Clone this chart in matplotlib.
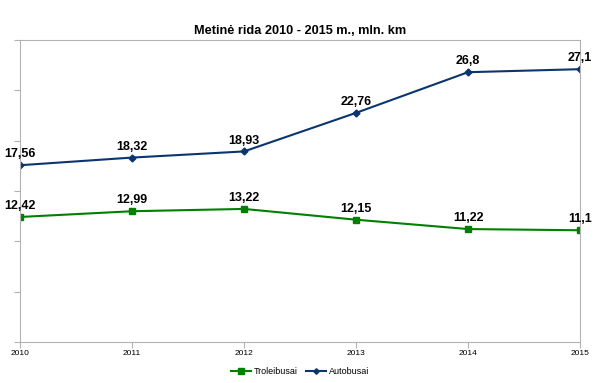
import matplotlib.pyplot as plt

# duomenys
years = [2010, 2011, 2012, 2013, 2014, 2015]
troleibusai = [12.42, 12.99, 13.22, 12.15, 11.22, 11.1]
autobusai = [17.56, 18.32, 18.93, 22.76, 26.8, 27.1]

plt.rcParams['font.family'] = ['Liberation Sans', 'DejaVu Sans']

fig = plt.figure(figsize=(6, 3.83), dpi=100)
ax = fig.add_axes([0.0333, 0.107, 0.9334, 0.7886])

green = '#008000'
navy = '#0a3570'

ax.plot(years, troleibusai, color=green, marker='s', markersize=5, linewidth=1.5,
        label='Troleibusai')
ax.plot(years, autobusai, color=navy, marker='D', markersize=3.5, linewidth=1.5,
        label='Autobusai')

for series in (troleibusai, autobusai):
    for x, y in zip(years, series):
        txt = ('%g' % y).replace('.', ',')
        ax.annotate(txt, (x, y), xytext=(0, 3.5), textcoords='offset points',
                    ha='center', va='bottom', fontsize=9, fontweight='bold',
                    annotation_clip=False)

ax.set_xlim(2010, 2015)
ax.set_ylim(0, 30)
ax.set_yticks(range(0, 31, 5))
ax.set_yticklabels([])
ax.set_xticks(years)
ax.set_xticklabels([str(y) for y in years], fontsize=6)
ax.tick_params(axis='both', color='#b3b3b3', length=4, width=0.8)
ax.tick_params(axis='x', pad=2)

for s in ax.spines.values():
    s.set_color('#b3b3b3')
    s.set_linewidth(0.8)

fig.text(0.5, 0.92, 'Metinė rida 2010 - 2015 m., mln. km', ha='center',
         va='center', fontsize=9.2, fontweight='bold')

fig.legend(loc='center', bbox_to_anchor=(0.5, 0.03), ncol=2, frameon=False,
           fontsize=6.5, handlelength=2.2, columnspacing=1.0, handletextpad=0.3,
           markerscale=0.8)

fig.savefig('out.png', dpi=100)
